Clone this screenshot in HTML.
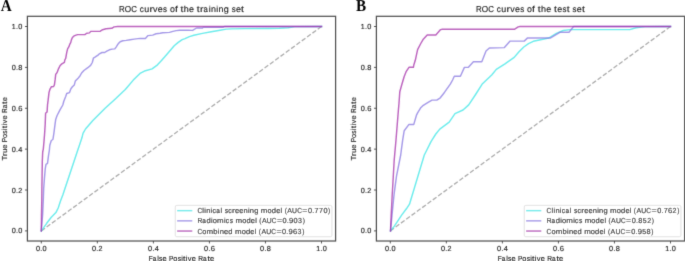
<!DOCTYPE html>
<html><head><meta charset="utf-8"><style>
html,body{margin:0;padding:0;background:#fff;}
body{width:685px;height:261px;overflow:hidden;}
svg{display:block;will-change:transform;}
text{text-rendering:geometricPrecision;}
</style></head><body>
<svg width="685" height="261" viewBox="0 0 685 261" style="font-family:'Liberation Sans',sans-serif">
<defs><filter id="cv" x="0" y="0" width="685" height="261" filterUnits="userSpaceOnUse"><feConvolveMatrix order="3" kernelMatrix="0.0113 0.0838 0.0113 0.0838 0.6193 0.0838 0.0113 0.0838 0.0113" edgeMode="none" preserveAlpha="false"/></filter></defs>
<rect width="685" height="261" fill="#fff"/>
<g filter="url(#cv)">
<path d="M41.3 230.9 L321.5 26.5" stroke="#acacac" stroke-width="1.3" stroke-dasharray="4.55 2.03" fill="none"/>
<path d="M41.3 230.9 L42.1 229.9 L46.7 223.3 L51.3 217.2 L55.9 212.6 L58.2 208.0 L60.5 201.1 L62.8 195.0 L77.8 150.0 L80.1 143.3 L82.0 137.6 L83.0 133.4 L85.5 129.0 L93.1 120.3 L105.1 108.3 L114.5 99.7 L125.3 89.5 L133.3 80.1 L140.0 73.4 L145.4 70.7 L152.1 68.9 L157.5 64.8 L161.5 60.5 L165.0 56.5 L170.2 50.5 L174.2 45.8 L178.2 42.4 L182.2 39.7 L185.0 38.6 L189.4 36.6 L193.8 35.3 L202.5 33.4 L211.3 31.7 L220.0 30.2 L226.2 29.1 L231.4 28.9 L245.0 28.6 L268.0 28.5 L279.4 28.3 L288.2 27.7 L295.0 26.6 L321.5 26.5" stroke="#3ce6e6" stroke-opacity="0.75" stroke-width="1.45" fill="none" stroke-linejoin="round" stroke-linecap="square"/>
<path d="M41.3 230.9 L42.6 215.0 L43.3 200.0 L43.7 188.3 L44.4 178.8 L45.2 169.2 L46.0 164.4 L47.5 163.4 L48.5 155.7 L49.4 150.0 L49.8 145.3 L51.3 140.5 L52.9 139.5 L53.8 133.8 L54.8 126.1 L55.7 119.4 L57.1 115.5 L60.0 109.8 L62.8 105.0 L63.8 101.2 L65.7 96.4 L66.7 93.5 L69.5 92.6 L70.9 88.8 L72.4 86.8 L74.3 84.9 L75.3 81.1 L77.8 78.6 L80.1 75.7 L81.6 73.0 L83.9 70.5 L87.8 67.7 L90.6 65.4 L92.3 62.5 L93.4 58.2 L95.0 57.2 L98.0 55.2 L99.4 53.8 L102.0 52.5 L104.7 52.5 L106.8 51.1 L109.4 49.8 L112.1 49.1 L114.8 48.9 L116.1 47.1 L117.5 44.8 L118.8 43.1 L120.2 41.8 L122.8 40.8 L126.2 40.4 L130.2 39.7 L134.2 39.1 L140.0 38.4 L145.4 38.4 L148.0 35.6 L152.7 35.1 L156.1 33.8 L160.1 33.3 L162.8 32.8 L169.5 32.4 L172.9 31.4 L176.2 30.6 L179.6 30.2 L188.0 30.2 L192.6 30.4 L196.5 28.0 L202.5 28.0 L203.2 27.2 L223.3 27.2 L224.3 26.5 L321.5 26.5" stroke="#8878e0" stroke-opacity="0.75" stroke-width="1.45" fill="none" stroke-linejoin="round" stroke-linecap="square"/>
<path d="M41.3 230.9 L41.5 215.0 L41.8 200.0 L41.9 188.0 L42.3 161.5 L42.7 152.0 L43.3 149.1 L44.0 141.4 L44.6 133.8 L45.2 124.2 L45.6 113.2 L47.1 111.9 L47.5 105.0 L48.1 100.3 L49.0 92.6 L49.8 89.7 L51.3 86.8 L53.6 86.5 L54.4 84.9 L55.2 79.2 L55.7 74.4 L57.1 72.5 L58.6 68.6 L60.0 65.8 L61.9 63.8 L64.4 62.3 L64.8 60.0 L65.7 58.3 L66.7 52.6 L67.6 48.8 L68.8 46.9 L70.0 43.8 L70.7 42.6 L71.5 39.6 L72.3 37.7 L73.8 36.1 L75.3 35.4 L77.6 34.6 L84.9 34.6 L86.7 33.2 L89.5 32.9 L90.7 31.4 L100.3 31.2 L102.6 29.7 L106.1 28.7 L111.8 28.3 L114.1 26.9 L117.6 26.5 L321.5 26.5" stroke="#a630aa" stroke-opacity="0.75" stroke-width="1.45" fill="none" stroke-linejoin="round" stroke-linecap="square"/>
<rect x="27.40" y="16.30" width="308.20" height="224.70" fill="none" stroke="#505050" stroke-width="1.25"/>
<line x1="41.30" y1="241.00" x2="41.30" y2="243.43" stroke="#404040" stroke-width="0.85"/>
<line x1="24.97" y1="230.90" x2="27.40" y2="230.90" stroke="#404040" stroke-width="0.85"/>
<g font-size="7.25" fill="#262626" stroke="#262626" stroke-width="0.15"><text transform="translate(37.99 251.00) scale(1.009 1)" x="-2.02">0</text><text transform="translate(41.30 251.00) scale(1.000 1)" x="-1.01">.</text><text transform="translate(44.61 251.00) scale(1.009 1)" x="-2.02">0</text></g>
<g font-size="7.25" fill="#262626" stroke="#262626" stroke-width="0.15"><text transform="translate(13.71 233.47) scale(1.009 1)" x="-2.02">0</text><text transform="translate(17.02 233.47) scale(1.000 1)" x="-1.01">.</text><text transform="translate(20.33 233.47) scale(1.009 1)" x="-2.02">0</text></g>
<line x1="97.34" y1="241.00" x2="97.34" y2="243.43" stroke="#404040" stroke-width="0.85"/>
<line x1="24.97" y1="190.02" x2="27.40" y2="190.02" stroke="#404040" stroke-width="0.85"/>
<g font-size="7.25" fill="#262626" stroke="#262626" stroke-width="0.15"><text transform="translate(94.03 251.00) scale(1.009 1)" x="-2.02">0</text><text transform="translate(97.34 251.00) scale(1.000 1)" x="-1.01">.</text><text transform="translate(100.56 251.00) scale(0.972 1)" x="-2.02">2</text></g>
<g font-size="7.25" fill="#262626" stroke="#262626" stroke-width="0.15"><text transform="translate(13.71 192.59) scale(1.009 1)" x="-2.02">0</text><text transform="translate(17.02 192.59) scale(1.000 1)" x="-1.01">.</text><text transform="translate(20.24 192.59) scale(0.972 1)" x="-2.02">2</text></g>
<line x1="153.38" y1="241.00" x2="153.38" y2="243.43" stroke="#404040" stroke-width="0.85"/>
<line x1="24.97" y1="149.14" x2="27.40" y2="149.14" stroke="#404040" stroke-width="0.85"/>
<g font-size="7.25" fill="#262626" stroke="#262626" stroke-width="0.15"><text transform="translate(150.07 251.00) scale(1.009 1)" x="-2.02">0</text><text transform="translate(153.38 251.00) scale(1.000 1)" x="-1.01">.</text><text transform="translate(156.67 251.00) scale(1.009 1)" x="-1.99">4</text></g>
<g font-size="7.25" fill="#262626" stroke="#262626" stroke-width="0.15"><text transform="translate(13.71 151.71) scale(1.009 1)" x="-2.02">0</text><text transform="translate(17.02 151.71) scale(1.000 1)" x="-1.01">.</text><text transform="translate(20.31 151.71) scale(1.009 1)" x="-1.99">4</text></g>
<line x1="209.42" y1="241.00" x2="209.42" y2="243.43" stroke="#404040" stroke-width="0.85"/>
<line x1="24.97" y1="108.26" x2="27.40" y2="108.26" stroke="#404040" stroke-width="0.85"/>
<g font-size="7.25" fill="#262626" stroke="#262626" stroke-width="0.15"><text transform="translate(206.11 251.00) scale(1.009 1)" x="-2.02">0</text><text transform="translate(209.42 251.00) scale(1.000 1)" x="-1.01">.</text><text transform="translate(212.75 251.00) scale(1.044 1)" x="-2.04">6</text></g>
<g font-size="7.25" fill="#262626" stroke="#262626" stroke-width="0.15"><text transform="translate(13.71 110.83) scale(1.009 1)" x="-2.02">0</text><text transform="translate(17.02 110.83) scale(1.000 1)" x="-1.01">.</text><text transform="translate(20.36 110.83) scale(1.044 1)" x="-2.04">6</text></g>
<line x1="265.46" y1="241.00" x2="265.46" y2="243.43" stroke="#404040" stroke-width="0.85"/>
<line x1="24.97" y1="67.38" x2="27.40" y2="67.38" stroke="#404040" stroke-width="0.85"/>
<g font-size="7.25" fill="#262626" stroke="#262626" stroke-width="0.15"><text transform="translate(262.15 251.00) scale(1.009 1)" x="-2.02">0</text><text transform="translate(265.46 251.00) scale(1.000 1)" x="-1.01">.</text><text transform="translate(268.77 251.00) scale(1.020 1)" x="-2.02">8</text></g>
<g font-size="7.25" fill="#262626" stroke="#262626" stroke-width="0.15"><text transform="translate(13.71 69.95) scale(1.009 1)" x="-2.02">0</text><text transform="translate(17.02 69.95) scale(1.000 1)" x="-1.01">.</text><text transform="translate(20.33 69.95) scale(1.020 1)" x="-2.02">8</text></g>
<line x1="321.50" y1="241.00" x2="321.50" y2="243.43" stroke="#404040" stroke-width="0.85"/>
<line x1="24.97" y1="26.50" x2="27.40" y2="26.50" stroke="#404040" stroke-width="0.85"/>
<g font-size="7.25" fill="#262626" stroke="#262626" stroke-width="0.15"><text transform="translate(318.25 251.00) scale(0.963 1)" x="-2.12">1</text><text transform="translate(321.50 251.00) scale(1.000 1)" x="-1.01">.</text><text transform="translate(324.81 251.00) scale(1.009 1)" x="-2.02">0</text></g>
<g font-size="7.25" fill="#262626" stroke="#262626" stroke-width="0.15"><text transform="translate(13.77 29.07) scale(0.963 1)" x="-2.12">1</text><text transform="translate(17.02 29.07) scale(1.000 1)" x="-1.01">.</text><text transform="translate(20.33 29.07) scale(1.009 1)" x="-2.02">0</text></g>
<g font-size="8.67" fill="#262626" stroke="#262626" stroke-width="0.15"><text transform="translate(122.01 12.25) scale(0.915 1)" x="-3.29">R</text><text transform="translate(127.87 12.25) scale(0.946 1)" x="-3.37">O</text><text transform="translate(134.04 12.25) scale(0.900 1)" x="-3.19">C</text><text transform="translate(141.82 12.25) scale(0.960 1)" x="-2.24">c</text><text transform="translate(146.74 12.25) scale(1.032 1)" x="-2.41">u</text><text transform="translate(151.48 12.25) scale(1.200 1)" x="-1.66">r</text><text transform="translate(155.26 12.25) scale(1.033 1)" x="-2.17">v</text><text transform="translate(160.28 12.25) scale(1.034 1)" x="-2.40">e</text><text transform="translate(165.01 12.25) scale(0.917 1)" x="-2.13">s</text><text transform="translate(172.33 12.25) scale(1.017 1)" x="-2.41">o</text><text transform="translate(176.50 12.25) scale(1.200 1)" x="-1.27">f</text><text transform="translate(182.07 12.25) scale(1.200 1)" x="-1.24">t</text><text transform="translate(186.33 12.25) scale(1.039 1)" x="-2.43">h</text><text transform="translate(191.50 12.25) scale(1.034 1)" x="-2.40">e</text><text transform="translate(198.32 12.25) scale(1.200 1)" x="-1.24">t</text><text transform="translate(202.02 12.25) scale(1.200 1)" x="-1.66">r</text><text transform="translate(205.77 12.25) scale(0.900 1)" x="-2.60">a</text><text transform="translate(209.59 12.25) scale(1.000 1)" x="-0.96">i</text><text transform="translate(213.40 12.25) scale(1.032 1)" x="-2.42">n</text><text transform="translate(217.16 12.25) scale(1.000 1)" x="-0.96">i</text><text transform="translate(220.97 12.25) scale(1.032 1)" x="-2.42">n</text><text transform="translate(226.06 12.25) scale(1.040 1)" x="-2.31">g</text><text transform="translate(233.66 12.25) scale(0.917 1)" x="-2.13">s</text><text transform="translate(238.36 12.25) scale(1.034 1)" x="-2.40">e</text><text transform="translate(242.55 12.25) scale(1.200 1)" x="-1.24">t</text></g>
<g font-size="7.25" fill="#262626" stroke="#262626" stroke-width="0.15"><text transform="translate(150.87 260.50) scale(0.900 1)" x="-2.37">F</text><text transform="translate(154.74 260.50) scale(0.900 1)" x="-2.17">a</text><text transform="translate(157.94 260.50) scale(1.000 1)" x="-0.81">l</text><text transform="translate(160.73 260.50) scale(0.917 1)" x="-1.78">s</text><text transform="translate(164.66 260.50) scale(1.034 1)" x="-2.01">e</text><text transform="translate(171.31 260.50) scale(0.900 1)" x="-2.52">P</text><text transform="translate(175.31 260.50) scale(1.017 1)" x="-2.02">o</text><text transform="translate(179.25 260.50) scale(0.917 1)" x="-1.78">s</text><text transform="translate(182.01 260.50) scale(1.000 1)" x="-0.80">i</text><text transform="translate(184.34 260.50) scale(1.200 1)" x="-1.04">t</text><text transform="translate(186.66 260.50) scale(1.000 1)" x="-0.80">i</text><text transform="translate(189.67 260.50) scale(1.033 1)" x="-1.81">v</text><text transform="translate(193.87 260.50) scale(1.034 1)" x="-2.01">e</text><text transform="translate(200.85 260.50) scale(0.915 1)" x="-2.75">R</text><text transform="translate(205.04 260.50) scale(0.900 1)" x="-2.17">a</text><text transform="translate(208.65 260.50) scale(1.200 1)" x="-1.04">t</text><text transform="translate(212.14 260.50) scale(1.034 1)" x="-2.01">e</text></g>
<g transform="translate(7.30 128.7) rotate(-90)"><g font-size="7.25" fill="#262626" stroke="#262626" stroke-width="0.15"><text transform="translate(-29.50 0.00) scale(1.044 1)" x="-2.21">T</text><text transform="translate(-25.64 0.00) scale(1.200 1)" x="-1.39">r</text><text transform="translate(-22.35 0.00) scale(1.032 1)" x="-2.01">u</text><text transform="translate(-17.99 0.00) scale(1.034 1)" x="-2.01">e</text><text transform="translate(-11.34 0.00) scale(0.900 1)" x="-2.52">P</text><text transform="translate(-7.34 0.00) scale(1.017 1)" x="-2.02">o</text><text transform="translate(-3.40 0.00) scale(0.917 1)" x="-1.78">s</text><text transform="translate(-0.64 0.00) scale(1.000 1)" x="-0.80">i</text><text transform="translate(1.69 0.00) scale(1.200 1)" x="-1.04">t</text><text transform="translate(4.01 0.00) scale(1.000 1)" x="-0.80">i</text><text transform="translate(7.02 0.00) scale(1.033 1)" x="-1.81">v</text><text transform="translate(11.22 0.00) scale(1.034 1)" x="-2.01">e</text><text transform="translate(18.21 0.00) scale(0.915 1)" x="-2.75">R</text><text transform="translate(22.40 0.00) scale(0.900 1)" x="-2.17">a</text><text transform="translate(26.00 0.00) scale(1.200 1)" x="-1.04">t</text><text transform="translate(29.49 0.00) scale(1.034 1)" x="-2.01">e</text></g></g>
<rect x="175.25" y="205.35" width="156.7" height="31.4" rx="1.6" fill="#fff" fill-opacity="0.8" stroke="#d6d6d6" stroke-width="0.7"/>
<line x1="177.10" y1="210.65" x2="192.30" y2="210.65" stroke="#3ce6e6" stroke-opacity="0.75" stroke-width="1.45"/>
<g font-size="7.25" fill="#262626" stroke="#262626" stroke-width="0.15"><text transform="translate(199.78 213.25) scale(0.900 1)" x="-2.66">C</text><text transform="translate(203.16 213.25) scale(1.000 1)" x="-0.81">l</text><text transform="translate(205.09 213.25) scale(1.000 1)" x="-0.80">i</text><text transform="translate(208.27 213.25) scale(1.032 1)" x="-2.02">n</text><text transform="translate(211.42 213.25) scale(1.000 1)" x="-0.80">i</text><text transform="translate(214.26 213.25) scale(0.960 1)" x="-1.87">c</text><text transform="translate(218.21 213.25) scale(0.900 1)" x="-2.17">a</text><text transform="translate(221.41 213.25) scale(1.000 1)" x="-0.81">l</text><text transform="translate(226.41 213.25) scale(0.917 1)" x="-1.78">s</text><text transform="translate(230.08 213.25) scale(0.960 1)" x="-1.87">c</text><text transform="translate(233.75 213.25) scale(1.200 1)" x="-1.39">r</text><text transform="translate(237.01 213.25) scale(1.034 1)" x="-2.01">e</text><text transform="translate(241.28 213.25) scale(1.034 1)" x="-2.01">e</text><text transform="translate(245.63 213.25) scale(1.032 1)" x="-2.02">n</text><text transform="translate(248.77 213.25) scale(1.000 1)" x="-0.80">i</text><text transform="translate(251.95 213.25) scale(1.032 1)" x="-2.02">n</text><text transform="translate(256.21 213.25) scale(1.040 1)" x="-1.94">g</text><text transform="translate(264.14 213.25) scale(1.090 1)" x="-3.02">m</text><text transform="translate(269.63 213.25) scale(1.017 1)" x="-2.02">o</text><text transform="translate(273.83 213.25) scale(1.040 1)" x="-1.94">d</text><text transform="translate(278.30 213.25) scale(1.034 1)" x="-2.01">e</text><text transform="translate(281.39 213.25) scale(1.000 1)" x="-0.81">l</text><text transform="translate(285.93 213.25) scale(0.900 1)" x="-1.41">(</text><text transform="translate(289.64 213.25) scale(0.964 1)" x="-2.42">A</text><text transform="translate(294.55 213.25) scale(0.940 1)" x="-2.62">U</text><text transform="translate(299.52 213.25) scale(0.900 1)" x="-2.66">C</text><text transform="translate(304.85 213.25) scale(1.200 1)" x="-2.12">=</text><text transform="translate(309.96 213.25) scale(1.009 1)" x="-2.02">0</text><text transform="translate(313.27 213.25) scale(1.000 1)" x="-1.01">.</text><text transform="translate(316.57 213.25) scale(0.987 1)" x="-2.02">7</text><text transform="translate(320.99 213.25) scale(0.987 1)" x="-2.02">7</text><text transform="translate(325.41 213.25) scale(1.009 1)" x="-2.02">0</text><text transform="translate(328.95 213.25) scale(0.900 1)" x="-1.00">)</text></g>
<line x1="177.10" y1="220.85" x2="192.30" y2="220.85" stroke="#8878e0" stroke-opacity="0.75" stroke-width="1.45"/>
<g font-size="7.25" fill="#262626" stroke="#262626" stroke-width="0.15"><text transform="translate(200.00 223.45) scale(0.915 1)" x="-2.75">R</text><text transform="translate(204.19 223.45) scale(0.900 1)" x="-2.17">a</text><text transform="translate(208.50 223.45) scale(1.040 1)" x="-1.94">d</text><text transform="translate(211.80 223.45) scale(1.000 1)" x="-0.80">i</text><text transform="translate(214.88 223.45) scale(1.017 1)" x="-2.02">o</text><text transform="translate(220.40 223.45) scale(1.090 1)" x="-3.02">m</text><text transform="translate(224.73 223.45) scale(1.000 1)" x="-0.80">i</text><text transform="translate(227.58 223.45) scale(0.960 1)" x="-1.87">c</text><text transform="translate(231.33 223.45) scale(0.917 1)" x="-1.78">s</text><text transform="translate(238.73 223.45) scale(1.090 1)" x="-3.02">m</text><text transform="translate(244.22 223.45) scale(1.017 1)" x="-2.02">o</text><text transform="translate(248.42 223.45) scale(1.040 1)" x="-1.94">d</text><text transform="translate(252.88 223.45) scale(1.034 1)" x="-2.01">e</text><text transform="translate(255.98 223.45) scale(1.000 1)" x="-0.81">l</text><text transform="translate(260.52 223.45) scale(0.900 1)" x="-1.41">(</text><text transform="translate(264.23 223.45) scale(0.964 1)" x="-2.42">A</text><text transform="translate(269.14 223.45) scale(0.940 1)" x="-2.62">U</text><text transform="translate(274.11 223.45) scale(0.900 1)" x="-2.66">C</text><text transform="translate(279.43 223.45) scale(1.200 1)" x="-2.12">=</text><text transform="translate(284.55 223.45) scale(1.009 1)" x="-2.02">0</text><text transform="translate(287.86 223.45) scale(1.000 1)" x="-1.01">.</text><text transform="translate(291.15 223.45) scale(1.042 1)" x="-2.01">9</text><text transform="translate(295.58 223.45) scale(1.009 1)" x="-2.02">0</text><text transform="translate(299.99 223.45) scale(0.969 1)" x="-2.00">3</text><text transform="translate(303.54 223.45) scale(0.900 1)" x="-1.00">)</text></g>
<line x1="177.10" y1="231.05" x2="192.30" y2="231.05" stroke="#a630aa" stroke-opacity="0.75" stroke-width="1.45"/>
<g font-size="7.25" fill="#262626" stroke="#262626" stroke-width="0.15"><text transform="translate(199.78 233.65) scale(0.900 1)" x="-2.66">C</text><text transform="translate(204.32 233.65) scale(1.017 1)" x="-2.02">o</text><text transform="translate(209.84 233.65) scale(1.090 1)" x="-3.02">m</text><text transform="translate(215.53 233.65) scale(1.041 1)" x="-2.10">b</text><text transform="translate(218.57 233.65) scale(1.000 1)" x="-0.80">i</text><text transform="translate(221.76 233.65) scale(1.032 1)" x="-2.02">n</text><text transform="translate(226.08 233.65) scale(1.034 1)" x="-2.01">e</text><text transform="translate(230.28 233.65) scale(1.040 1)" x="-1.94">d</text><text transform="translate(238.22 233.65) scale(1.090 1)" x="-3.02">m</text><text transform="translate(243.70 233.65) scale(1.017 1)" x="-2.02">o</text><text transform="translate(247.90 233.65) scale(1.040 1)" x="-1.94">d</text><text transform="translate(252.37 233.65) scale(1.034 1)" x="-2.01">e</text><text transform="translate(255.46 233.65) scale(1.000 1)" x="-0.81">l</text><text transform="translate(260.00 233.65) scale(0.900 1)" x="-1.41">(</text><text transform="translate(263.71 233.65) scale(0.964 1)" x="-2.42">A</text><text transform="translate(268.63 233.65) scale(0.940 1)" x="-2.62">U</text><text transform="translate(273.60 233.65) scale(0.900 1)" x="-2.66">C</text><text transform="translate(278.92 233.65) scale(1.200 1)" x="-2.12">=</text><text transform="translate(284.03 233.65) scale(1.009 1)" x="-2.02">0</text><text transform="translate(287.34 233.65) scale(1.000 1)" x="-1.01">.</text><text transform="translate(290.63 233.65) scale(1.042 1)" x="-2.01">9</text><text transform="translate(295.09 233.65) scale(1.044 1)" x="-2.04">6</text><text transform="translate(299.47 233.65) scale(0.969 1)" x="-2.00">3</text><text transform="translate(303.03 233.65) scale(0.900 1)" x="-1.00">)</text></g>
<path d="M390.3 230.9 L670.5 26.5" stroke="#acacac" stroke-width="1.3" stroke-dasharray="4.55 2.03" fill="none"/>
<path d="M390.5 230.9 L390.8 230.2 L394.2 226.4 L397.2 221.8 L401.8 214.9 L406.4 208.8 L409.5 204.2 L424.3 155.0 L426.2 151.2 L431.0 141.6 L435.8 134.0 L439.8 129.1 L449.2 122.1 L455.0 113.6 L463.0 110.0 L468.7 104.9 L475.6 94.5 L482.5 83.7 L491.7 75.0 L496.3 69.4 L504.6 64.1 L514.2 57.4 L519.0 51.7 L523.8 47.0 L528.5 43.6 L533.3 41.3 L542.9 39.3 L548.7 38.0 L556.4 33.3 L563.3 30.5 L570.2 29.6 L629.8 29.6 L636.0 27.7 L645.2 26.6 L670.5 26.5" stroke="#3ce6e6" stroke-opacity="0.75" stroke-width="1.45" fill="none" stroke-linejoin="round" stroke-linecap="square"/>
<path d="M390.5 230.9 L393.0 205.0 L394.2 193.3 L396.5 176.1 L400.7 155.0 L401.3 150.3 L402.6 140.7 L404.2 130.7 L409.0 124.4 L413.8 124.4 L416.6 114.8 L417.6 112.9 L420.5 108.1 L423.3 105.3 L428.1 102.4 L432.0 100.1 L436.8 100.1 L440.3 97.8 L444.6 92.2 L450.3 84.2 L452.6 80.0 L454.3 76.3 L460.4 76.3 L464.4 67.4 L468.4 67.2 L473.4 61.8 L481.8 61.8 L486.0 51.0 L489.4 48.0 L504.4 47.6 L510.1 41.1 L524.2 41.1 L527.6 37.9 L550.6 37.9 L559.8 32.3 L569.0 32.3 L573.6 26.5 L670.5 26.5" stroke="#8878e0" stroke-opacity="0.75" stroke-width="1.45" fill="none" stroke-linejoin="round" stroke-linecap="square"/>
<path d="M390.5 230.9 L391.2 215.0 L392.2 195.0 L392.8 185.0 L394.2 160.0 L396.0 140.0 L398.4 110.0 L399.0 103.3 L399.8 91.8 L401.9 84.2 L404.2 76.5 L406.1 71.7 L409.0 67.3 L413.4 67.3 L413.8 65.0 L415.3 60.3 L417.6 49.7 L420.5 44.0 L423.3 39.2 L427.2 35.0 L435.8 35.0 L440.6 29.6 L442.3 29.2 L514.7 29.2 L518.2 26.9 L520.0 26.5 L670.5 26.5" stroke="#a630aa" stroke-opacity="0.75" stroke-width="1.45" fill="none" stroke-linejoin="round" stroke-linecap="square"/>
<rect x="376.40" y="16.30" width="308.20" height="224.70" fill="none" stroke="#505050" stroke-width="1.25"/>
<line x1="390.30" y1="241.00" x2="390.30" y2="243.43" stroke="#404040" stroke-width="0.85"/>
<line x1="373.97" y1="230.90" x2="376.40" y2="230.90" stroke="#404040" stroke-width="0.85"/>
<g font-size="7.25" fill="#262626" stroke="#262626" stroke-width="0.15"><text transform="translate(386.99 251.00) scale(1.009 1)" x="-2.02">0</text><text transform="translate(390.30 251.00) scale(1.000 1)" x="-1.01">.</text><text transform="translate(393.61 251.00) scale(1.009 1)" x="-2.02">0</text></g>
<g font-size="7.25" fill="#262626" stroke="#262626" stroke-width="0.15"><text transform="translate(362.71 233.47) scale(1.009 1)" x="-2.02">0</text><text transform="translate(366.02 233.47) scale(1.000 1)" x="-1.01">.</text><text transform="translate(369.33 233.47) scale(1.009 1)" x="-2.02">0</text></g>
<line x1="446.34" y1="241.00" x2="446.34" y2="243.43" stroke="#404040" stroke-width="0.85"/>
<line x1="373.97" y1="190.02" x2="376.40" y2="190.02" stroke="#404040" stroke-width="0.85"/>
<g font-size="7.25" fill="#262626" stroke="#262626" stroke-width="0.15"><text transform="translate(443.03 251.00) scale(1.009 1)" x="-2.02">0</text><text transform="translate(446.34 251.00) scale(1.000 1)" x="-1.01">.</text><text transform="translate(449.56 251.00) scale(0.972 1)" x="-2.02">2</text></g>
<g font-size="7.25" fill="#262626" stroke="#262626" stroke-width="0.15"><text transform="translate(362.71 192.59) scale(1.009 1)" x="-2.02">0</text><text transform="translate(366.02 192.59) scale(1.000 1)" x="-1.01">.</text><text transform="translate(369.24 192.59) scale(0.972 1)" x="-2.02">2</text></g>
<line x1="502.38" y1="241.00" x2="502.38" y2="243.43" stroke="#404040" stroke-width="0.85"/>
<line x1="373.97" y1="149.14" x2="376.40" y2="149.14" stroke="#404040" stroke-width="0.85"/>
<g font-size="7.25" fill="#262626" stroke="#262626" stroke-width="0.15"><text transform="translate(499.07 251.00) scale(1.009 1)" x="-2.02">0</text><text transform="translate(502.38 251.00) scale(1.000 1)" x="-1.01">.</text><text transform="translate(505.67 251.00) scale(1.009 1)" x="-1.99">4</text></g>
<g font-size="7.25" fill="#262626" stroke="#262626" stroke-width="0.15"><text transform="translate(362.71 151.71) scale(1.009 1)" x="-2.02">0</text><text transform="translate(366.02 151.71) scale(1.000 1)" x="-1.01">.</text><text transform="translate(369.31 151.71) scale(1.009 1)" x="-1.99">4</text></g>
<line x1="558.42" y1="241.00" x2="558.42" y2="243.43" stroke="#404040" stroke-width="0.85"/>
<line x1="373.97" y1="108.26" x2="376.40" y2="108.26" stroke="#404040" stroke-width="0.85"/>
<g font-size="7.25" fill="#262626" stroke="#262626" stroke-width="0.15"><text transform="translate(555.11 251.00) scale(1.009 1)" x="-2.02">0</text><text transform="translate(558.42 251.00) scale(1.000 1)" x="-1.01">.</text><text transform="translate(561.75 251.00) scale(1.044 1)" x="-2.04">6</text></g>
<g font-size="7.25" fill="#262626" stroke="#262626" stroke-width="0.15"><text transform="translate(362.71 110.83) scale(1.009 1)" x="-2.02">0</text><text transform="translate(366.02 110.83) scale(1.000 1)" x="-1.01">.</text><text transform="translate(369.36 110.83) scale(1.044 1)" x="-2.04">6</text></g>
<line x1="614.46" y1="241.00" x2="614.46" y2="243.43" stroke="#404040" stroke-width="0.85"/>
<line x1="373.97" y1="67.38" x2="376.40" y2="67.38" stroke="#404040" stroke-width="0.85"/>
<g font-size="7.25" fill="#262626" stroke="#262626" stroke-width="0.15"><text transform="translate(611.15 251.00) scale(1.009 1)" x="-2.02">0</text><text transform="translate(614.46 251.00) scale(1.000 1)" x="-1.01">.</text><text transform="translate(617.77 251.00) scale(1.020 1)" x="-2.02">8</text></g>
<g font-size="7.25" fill="#262626" stroke="#262626" stroke-width="0.15"><text transform="translate(362.71 69.95) scale(1.009 1)" x="-2.02">0</text><text transform="translate(366.02 69.95) scale(1.000 1)" x="-1.01">.</text><text transform="translate(369.33 69.95) scale(1.020 1)" x="-2.02">8</text></g>
<line x1="670.50" y1="241.00" x2="670.50" y2="243.43" stroke="#404040" stroke-width="0.85"/>
<line x1="373.97" y1="26.50" x2="376.40" y2="26.50" stroke="#404040" stroke-width="0.85"/>
<g font-size="7.25" fill="#262626" stroke="#262626" stroke-width="0.15"><text transform="translate(667.25 251.00) scale(0.963 1)" x="-2.12">1</text><text transform="translate(670.50 251.00) scale(1.000 1)" x="-1.01">.</text><text transform="translate(673.81 251.00) scale(1.009 1)" x="-2.02">0</text></g>
<g font-size="7.25" fill="#262626" stroke="#262626" stroke-width="0.15"><text transform="translate(362.77 29.07) scale(0.963 1)" x="-2.12">1</text><text transform="translate(366.02 29.07) scale(1.000 1)" x="-1.01">.</text><text transform="translate(369.33 29.07) scale(1.009 1)" x="-2.02">0</text></g>
<g font-size="8.67" fill="#262626" stroke="#262626" stroke-width="0.15"><text transform="translate(479.12 12.25) scale(0.915 1)" x="-3.29">R</text><text transform="translate(484.98 12.25) scale(0.946 1)" x="-3.37">O</text><text transform="translate(491.15 12.25) scale(0.900 1)" x="-3.19">C</text><text transform="translate(498.93 12.25) scale(0.960 1)" x="-2.24">c</text><text transform="translate(503.85 12.25) scale(1.032 1)" x="-2.41">u</text><text transform="translate(508.58 12.25) scale(1.200 1)" x="-1.66">r</text><text transform="translate(512.37 12.25) scale(1.033 1)" x="-2.17">v</text><text transform="translate(517.39 12.25) scale(1.034 1)" x="-2.40">e</text><text transform="translate(522.12 12.25) scale(0.917 1)" x="-2.13">s</text><text transform="translate(529.44 12.25) scale(1.017 1)" x="-2.41">o</text><text transform="translate(533.61 12.25) scale(1.200 1)" x="-1.27">f</text><text transform="translate(539.17 12.25) scale(1.200 1)" x="-1.24">t</text><text transform="translate(543.44 12.25) scale(1.039 1)" x="-2.43">h</text><text transform="translate(548.61 12.25) scale(1.034 1)" x="-2.40">e</text><text transform="translate(555.43 12.25) scale(1.200 1)" x="-1.24">t</text><text transform="translate(559.61 12.25) scale(1.034 1)" x="-2.40">e</text><text transform="translate(564.34 12.25) scale(0.917 1)" x="-2.13">s</text><text transform="translate(568.12 12.25) scale(1.200 1)" x="-1.24">t</text><text transform="translate(574.56 12.25) scale(0.917 1)" x="-2.13">s</text><text transform="translate(579.26 12.25) scale(1.034 1)" x="-2.40">e</text><text transform="translate(583.44 12.25) scale(1.200 1)" x="-1.24">t</text></g>
<g font-size="7.25" fill="#262626" stroke="#262626" stroke-width="0.15"><text transform="translate(499.87 260.50) scale(0.900 1)" x="-2.37">F</text><text transform="translate(503.74 260.50) scale(0.900 1)" x="-2.17">a</text><text transform="translate(506.94 260.50) scale(1.000 1)" x="-0.81">l</text><text transform="translate(509.73 260.50) scale(0.917 1)" x="-1.78">s</text><text transform="translate(513.66 260.50) scale(1.034 1)" x="-2.01">e</text><text transform="translate(520.31 260.50) scale(0.900 1)" x="-2.52">P</text><text transform="translate(524.31 260.50) scale(1.017 1)" x="-2.02">o</text><text transform="translate(528.25 260.50) scale(0.917 1)" x="-1.78">s</text><text transform="translate(531.01 260.50) scale(1.000 1)" x="-0.80">i</text><text transform="translate(533.34 260.50) scale(1.200 1)" x="-1.04">t</text><text transform="translate(535.66 260.50) scale(1.000 1)" x="-0.80">i</text><text transform="translate(538.67 260.50) scale(1.033 1)" x="-1.81">v</text><text transform="translate(542.87 260.50) scale(1.034 1)" x="-2.01">e</text><text transform="translate(549.85 260.50) scale(0.915 1)" x="-2.75">R</text><text transform="translate(554.04 260.50) scale(0.900 1)" x="-2.17">a</text><text transform="translate(557.65 260.50) scale(1.200 1)" x="-1.04">t</text><text transform="translate(561.14 260.50) scale(1.034 1)" x="-2.01">e</text></g>
<g transform="translate(356.30 128.7) rotate(-90)"><g font-size="7.25" fill="#262626" stroke="#262626" stroke-width="0.15"><text transform="translate(-29.50 0.00) scale(1.044 1)" x="-2.21">T</text><text transform="translate(-25.64 0.00) scale(1.200 1)" x="-1.39">r</text><text transform="translate(-22.35 0.00) scale(1.032 1)" x="-2.01">u</text><text transform="translate(-17.99 0.00) scale(1.034 1)" x="-2.01">e</text><text transform="translate(-11.34 0.00) scale(0.900 1)" x="-2.52">P</text><text transform="translate(-7.34 0.00) scale(1.017 1)" x="-2.02">o</text><text transform="translate(-3.40 0.00) scale(0.917 1)" x="-1.78">s</text><text transform="translate(-0.64 0.00) scale(1.000 1)" x="-0.80">i</text><text transform="translate(1.69 0.00) scale(1.200 1)" x="-1.04">t</text><text transform="translate(4.01 0.00) scale(1.000 1)" x="-0.80">i</text><text transform="translate(7.02 0.00) scale(1.033 1)" x="-1.81">v</text><text transform="translate(11.22 0.00) scale(1.034 1)" x="-2.01">e</text><text transform="translate(18.21 0.00) scale(0.915 1)" x="-2.75">R</text><text transform="translate(22.40 0.00) scale(0.900 1)" x="-2.17">a</text><text transform="translate(26.00 0.00) scale(1.200 1)" x="-1.04">t</text><text transform="translate(29.49 0.00) scale(1.034 1)" x="-2.01">e</text></g></g>
<rect x="524.25" y="205.35" width="156.7" height="31.4" rx="1.6" fill="#fff" fill-opacity="0.8" stroke="#d6d6d6" stroke-width="0.7"/>
<line x1="526.10" y1="210.65" x2="541.30" y2="210.65" stroke="#3ce6e6" stroke-opacity="0.75" stroke-width="1.45"/>
<g font-size="7.25" fill="#262626" stroke="#262626" stroke-width="0.15"><text transform="translate(548.98 213.25) scale(0.900 1)" x="-2.66">C</text><text transform="translate(552.36 213.25) scale(1.000 1)" x="-0.81">l</text><text transform="translate(554.29 213.25) scale(1.000 1)" x="-0.80">i</text><text transform="translate(557.47 213.25) scale(1.032 1)" x="-2.02">n</text><text transform="translate(560.62 213.25) scale(1.000 1)" x="-0.80">i</text><text transform="translate(563.46 213.25) scale(0.960 1)" x="-1.87">c</text><text transform="translate(567.41 213.25) scale(0.900 1)" x="-2.17">a</text><text transform="translate(570.61 213.25) scale(1.000 1)" x="-0.81">l</text><text transform="translate(575.61 213.25) scale(0.917 1)" x="-1.78">s</text><text transform="translate(579.28 213.25) scale(0.960 1)" x="-1.87">c</text><text transform="translate(582.95 213.25) scale(1.200 1)" x="-1.39">r</text><text transform="translate(586.21 213.25) scale(1.034 1)" x="-2.01">e</text><text transform="translate(590.48 213.25) scale(1.034 1)" x="-2.01">e</text><text transform="translate(594.83 213.25) scale(1.032 1)" x="-2.02">n</text><text transform="translate(597.97 213.25) scale(1.000 1)" x="-0.80">i</text><text transform="translate(601.15 213.25) scale(1.032 1)" x="-2.02">n</text><text transform="translate(605.41 213.25) scale(1.040 1)" x="-1.94">g</text><text transform="translate(613.34 213.25) scale(1.090 1)" x="-3.02">m</text><text transform="translate(618.83 213.25) scale(1.017 1)" x="-2.02">o</text><text transform="translate(623.03 213.25) scale(1.040 1)" x="-1.94">d</text><text transform="translate(627.50 213.25) scale(1.034 1)" x="-2.01">e</text><text transform="translate(630.59 213.25) scale(1.000 1)" x="-0.81">l</text><text transform="translate(635.13 213.25) scale(0.900 1)" x="-1.41">(</text><text transform="translate(638.84 213.25) scale(0.964 1)" x="-2.42">A</text><text transform="translate(643.75 213.25) scale(0.940 1)" x="-2.62">U</text><text transform="translate(648.72 213.25) scale(0.900 1)" x="-2.66">C</text><text transform="translate(654.05 213.25) scale(1.200 1)" x="-2.12">=</text><text transform="translate(659.16 213.25) scale(1.009 1)" x="-2.02">0</text><text transform="translate(662.47 213.25) scale(1.000 1)" x="-1.01">.</text><text transform="translate(665.77 213.25) scale(0.987 1)" x="-2.02">7</text><text transform="translate(670.22 213.25) scale(1.044 1)" x="-2.04">6</text><text transform="translate(674.52 213.25) scale(0.972 1)" x="-2.02">2</text><text transform="translate(678.15 213.25) scale(0.900 1)" x="-1.00">)</text></g>
<line x1="526.10" y1="220.85" x2="541.30" y2="220.85" stroke="#8878e0" stroke-opacity="0.75" stroke-width="1.45"/>
<g font-size="7.25" fill="#262626" stroke="#262626" stroke-width="0.15"><text transform="translate(549.20 223.45) scale(0.915 1)" x="-2.75">R</text><text transform="translate(553.39 223.45) scale(0.900 1)" x="-2.17">a</text><text transform="translate(557.70 223.45) scale(1.040 1)" x="-1.94">d</text><text transform="translate(561.00 223.45) scale(1.000 1)" x="-0.80">i</text><text transform="translate(564.08 223.45) scale(1.017 1)" x="-2.02">o</text><text transform="translate(569.60 223.45) scale(1.090 1)" x="-3.02">m</text><text transform="translate(573.93 223.45) scale(1.000 1)" x="-0.80">i</text><text transform="translate(576.78 223.45) scale(0.960 1)" x="-1.87">c</text><text transform="translate(580.53 223.45) scale(0.917 1)" x="-1.78">s</text><text transform="translate(587.93 223.45) scale(1.090 1)" x="-3.02">m</text><text transform="translate(593.42 223.45) scale(1.017 1)" x="-2.02">o</text><text transform="translate(597.62 223.45) scale(1.040 1)" x="-1.94">d</text><text transform="translate(602.08 223.45) scale(1.034 1)" x="-2.01">e</text><text transform="translate(605.18 223.45) scale(1.000 1)" x="-0.81">l</text><text transform="translate(609.72 223.45) scale(0.900 1)" x="-1.41">(</text><text transform="translate(613.43 223.45) scale(0.964 1)" x="-2.42">A</text><text transform="translate(618.34 223.45) scale(0.940 1)" x="-2.62">U</text><text transform="translate(623.31 223.45) scale(0.900 1)" x="-2.66">C</text><text transform="translate(628.63 223.45) scale(1.200 1)" x="-2.12">=</text><text transform="translate(633.75 223.45) scale(1.009 1)" x="-2.02">0</text><text transform="translate(637.06 223.45) scale(1.000 1)" x="-1.01">.</text><text transform="translate(640.37 223.45) scale(1.020 1)" x="-2.02">8</text><text transform="translate(644.75 223.45) scale(0.952 1)" x="-2.01">5</text><text transform="translate(649.11 223.45) scale(0.972 1)" x="-2.02">2</text><text transform="translate(652.74 223.45) scale(0.900 1)" x="-1.00">)</text></g>
<line x1="526.10" y1="231.05" x2="541.30" y2="231.05" stroke="#a630aa" stroke-opacity="0.75" stroke-width="1.45"/>
<g font-size="7.25" fill="#262626" stroke="#262626" stroke-width="0.15"><text transform="translate(548.98 233.65) scale(0.900 1)" x="-2.66">C</text><text transform="translate(553.52 233.65) scale(1.017 1)" x="-2.02">o</text><text transform="translate(559.04 233.65) scale(1.090 1)" x="-3.02">m</text><text transform="translate(564.73 233.65) scale(1.041 1)" x="-2.10">b</text><text transform="translate(567.77 233.65) scale(1.000 1)" x="-0.80">i</text><text transform="translate(570.96 233.65) scale(1.032 1)" x="-2.02">n</text><text transform="translate(575.28 233.65) scale(1.034 1)" x="-2.01">e</text><text transform="translate(579.48 233.65) scale(1.040 1)" x="-1.94">d</text><text transform="translate(587.42 233.65) scale(1.090 1)" x="-3.02">m</text><text transform="translate(592.90 233.65) scale(1.017 1)" x="-2.02">o</text><text transform="translate(597.10 233.65) scale(1.040 1)" x="-1.94">d</text><text transform="translate(601.57 233.65) scale(1.034 1)" x="-2.01">e</text><text transform="translate(604.66 233.65) scale(1.000 1)" x="-0.81">l</text><text transform="translate(609.20 233.65) scale(0.900 1)" x="-1.41">(</text><text transform="translate(612.91 233.65) scale(0.964 1)" x="-2.42">A</text><text transform="translate(617.83 233.65) scale(0.940 1)" x="-2.62">U</text><text transform="translate(622.80 233.65) scale(0.900 1)" x="-2.66">C</text><text transform="translate(628.12 233.65) scale(1.200 1)" x="-2.12">=</text><text transform="translate(633.23 233.65) scale(1.009 1)" x="-2.02">0</text><text transform="translate(636.54 233.65) scale(1.000 1)" x="-1.01">.</text><text transform="translate(639.83 233.65) scale(1.042 1)" x="-2.01">9</text><text transform="translate(644.24 233.65) scale(0.952 1)" x="-2.01">5</text><text transform="translate(648.68 233.65) scale(1.020 1)" x="-2.02">8</text><text transform="translate(652.23 233.65) scale(0.900 1)" x="-1.00">)</text></g>
<text transform="translate(0.8 11.2) scale(1 1.1)" x="0" y="0" font-family="'Liberation Serif',serif" font-weight="bold" font-size="15.2" fill="#000">A</text>
<text transform="translate(356.1 11.2) scale(1 1.1)" x="0" y="0" font-family="'Liberation Serif',serif" font-weight="bold" font-size="15.2" fill="#000">B</text>
</g>
</svg>
</body></html>
